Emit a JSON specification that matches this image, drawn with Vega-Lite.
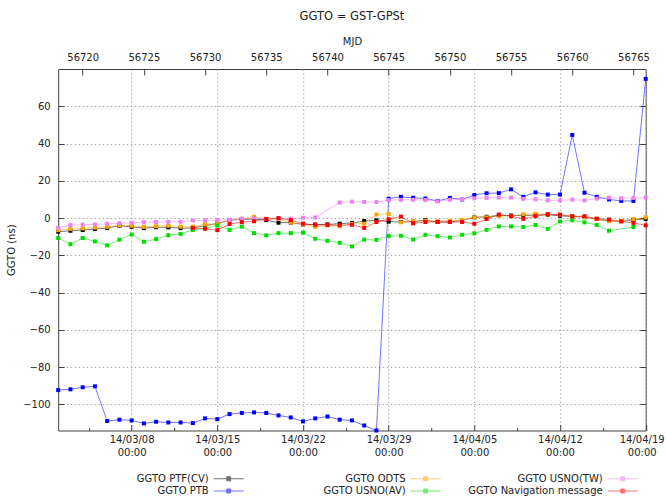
{
  "$schema": "https://vega.github.io/schema/vega-lite/v6.json",
  "width": 587.5,
  "height": 361.5,
  "autosize": {"type": "none"},
  "padding": {"left": 58.2, "top": 69, "right": 20.3, "bottom": 67.5},
  "background": "white",
  "title": {"text": "GGTO = GST-GPSt", "fontSize": 11.5, "font": "DejaVu Sans", "fontWeight": "normal", "color": "#222222", "offset": 14},
  "config": {
    "view": {"stroke": "#404040", "strokeWidth": 1},
    "font": "DejaVu Sans",
    "axis": {"labelFont": "DejaVu Sans", "labelFontSize": 10, "labelColor": "#222222", "titleFont": "DejaVu Sans", "titleFontSize": 10, "titleFontWeight": "normal", "titleColor": "#222222", "tickColor": "#404040", "domain": false, "labelFlush": false, "labelOverlap": false, "labelBound": false, "gridColor": "#a8a8a8", "gridDash": [1.5, 2.5], "gridWidth": 1}
  },
  "data": {"values": [
    {"s":"PTF(CV)","d":56718,"v":-7.3},{"s":"PTF(CV)","d":56719,"v":-6.8},{"s":"PTF(CV)","d":56720,"v":-6.4},{"s":"PTF(CV)","d":56721,"v":-5.9},{"s":"PTF(CV)","d":56722,"v":-5.4},{"s":"PTF(CV)","d":56723,"v":-4.1},{"s":"PTF(CV)","d":56724,"v":-4.7},{"s":"PTF(CV)","d":56725,"v":-5.4},{"s":"PTF(CV)","d":56726,"v":-4.9},{"s":"PTF(CV)","d":56727,"v":-5.0},
    {"s":"PTF(CV)","d":56728,"v":-5.4},{"s":"PTF(CV)","d":56729,"v":-5.4},{"s":"PTF(CV)","d":56730,"v":-4.0},{"s":"PTF(CV)","d":56731,"v":-2.9},{"s":"PTF(CV)","d":56732,"v":-1.2},{"s":"PTF(CV)","d":56733,"v":-0.6},{"s":"PTF(CV)","d":56734,"v":-0.6},{"s":"PTF(CV)","d":56735,"v":-1.0},{"s":"PTF(CV)","d":56736,"v":-2.5},{"s":"PTF(CV)","d":56737,"v":-2.4},
    {"s":"PTF(CV)","d":56738,"v":-3.4},{"s":"PTF(CV)","d":56739,"v":-3.5},{"s":"PTF(CV)","d":56740,"v":-3.4},{"s":"PTF(CV)","d":56741,"v":-3.0},{"s":"PTF(CV)","d":56742,"v":-2.6},{"s":"PTF(CV)","d":56743,"v":-1.6},{"s":"PTF(CV)","d":56744,"v":-1.2},{"s":"PTF(CV)","d":56745,"v":-1.9},{"s":"PTF(CV)","d":56746,"v":-2.1},{"s":"PTF(CV)","d":56747,"v":-1.9},
    {"s":"PTF(CV)","d":56748,"v":-1.1},{"s":"PTF(CV)","d":56749,"v":-2.1},{"s":"PTF(CV)","d":56750,"v":-2.1},{"s":"PTF(CV)","d":56751,"v":-1.2},{"s":"PTF(CV)","d":56752,"v":0.4},{"s":"PTF(CV)","d":56753,"v":0.7},{"s":"PTF(CV)","d":56754,"v":1.4},{"s":"PTF(CV)","d":56755,"v":1.4},{"s":"PTF(CV)","d":56756,"v":1.4},{"s":"PTF(CV)","d":56757,"v":1.6},
    {"s":"PTF(CV)","d":56758,"v":1.8},{"s":"PTF(CV)","d":56759,"v":1.2},{"s":"PTF(CV)","d":56760,"v":0.9},{"s":"PTF(CV)","d":56761,"v":0.5},{"s":"PTF(CV)","d":56762,"v":-0.5},{"s":"PTF(CV)","d":56763,"v":-1.6},{"s":"PTF(CV)","d":56764,"v":-1.6},{"s":"PTF(CV)","d":56765,"v":-0.9},{"s":"PTF(CV)","d":56766,"v":-0.5},

    {"s":"PTB","d":56718,"v":-92.3},{"s":"PTB","d":56719,"v":-91.9},{"s":"PTB","d":56720,"v":-90.8},{"s":"PTB","d":56721,"v":-90.3},{"s":"PTB","d":56722,"v":-108.9},{"s":"PTB","d":56723,"v":-108.2},{"s":"PTB","d":56724,"v":-108.6},{"s":"PTB","d":56725,"v":-110.2},{"s":"PTB","d":56726,"v":-109.3},{"s":"PTB","d":56727,"v":-109.7},
    {"s":"PTB","d":56728,"v":-109.7},{"s":"PTB","d":56729,"v":-110.0},{"s":"PTB","d":56730,"v":-107.5},{"s":"PTB","d":56731,"v":-107.9},{"s":"PTB","d":56732,"v":-105.2},{"s":"PTB","d":56733,"v":-104.6},{"s":"PTB","d":56734,"v":-104.3},{"s":"PTB","d":56735,"v":-104.6},{"s":"PTB","d":56736,"v":-105.9},{"s":"PTB","d":56737,"v":-107.0},
    {"s":"PTB","d":56738,"v":-109.1},{"s":"PTB","d":56739,"v":-107.5},{"s":"PTB","d":56740,"v":-106.5},{"s":"PTB","d":56741,"v":-108.2},{"s":"PTB","d":56742,"v":-108.6},{"s":"PTB","d":56743,"v":-111.3},{"s":"PTB","d":56744,"v":-114.0},{"s":"PTB","d":56745,"v":10.4},{"s":"PTB","d":56746,"v":11.4},{"s":"PTB","d":56747,"v":10.9},
    {"s":"PTB","d":56748,"v":10.5},{"s":"PTB","d":56749,"v":9.2},{"s":"PTB","d":56750,"v":10.8},{"s":"PTB","d":56751,"v":10.0},{"s":"PTB","d":56752,"v":12.4},{"s":"PTB","d":56753,"v":13.3},{"s":"PTB","d":56754,"v":13.4},{"s":"PTB","d":56755,"v":15.4},{"s":"PTB","d":56756,"v":11.4},{"s":"PTB","d":56757,"v":13.8},
    {"s":"PTB","d":56758,"v":12.6},{"s":"PTB","d":56759,"v":12.6},{"s":"PTB","d":56760,"v":44.6},{"s":"PTB","d":56761,"v":13.6},{"s":"PTB","d":56762,"v":11.4},{"s":"PTB","d":56763,"v":10.0},{"s":"PTB","d":56764,"v":9.2},{"s":"PTB","d":56765,"v":9.2},{"s":"PTB","d":56766,"v":74.7},

    {"s":"ODTS","d":56718,"v":-6.5},{"s":"ODTS","d":56719,"v":-5.9},{"s":"ODTS","d":56720,"v":-5.5},{"s":"ODTS","d":56721,"v":-5.1},{"s":"ODTS","d":56722,"v":-4.7},{"s":"ODTS","d":56723,"v":-3.8},{"s":"ODTS","d":56724,"v":-4.1},{"s":"ODTS","d":56725,"v":-4.7},{"s":"ODTS","d":56726,"v":-4.4},{"s":"ODTS","d":56727,"v":-4.1},
    {"s":"ODTS","d":56728,"v":-4.6},{"s":"ODTS","d":56729,"v":-4.6},{"s":"ODTS","d":56730,"v":-3.3},{"s":"ODTS","d":56731,"v":-3.2},{"s":"ODTS","d":56732,"v":-1.2},{"s":"ODTS","d":56733,"v":-0.3},{"s":"ODTS","d":56734,"v":0.7},{"s":"ODTS","d":56735,"v":-0.4},{"s":"ODTS","d":56736,"v":-0.5},{"s":"ODTS","d":56737,"v":-2.4},
    {"s":"ODTS","d":56738,"v":-3.3},{"s":"ODTS","d":56739,"v":-4.7},{"s":"ODTS","d":56740,"v":-3.9},{"s":"ODTS","d":56741,"v":-4.4},{"s":"ODTS","d":56742,"v":-3.1},{"s":"ODTS","d":56743,"v":-3.0},{"s":"ODTS","d":56744,"v":1.9},{"s":"ODTS","d":56745,"v":2.2},{"s":"ODTS","d":56746,"v":-2.3},{"s":"ODTS","d":56747,"v":-1.7},
    {"s":"ODTS","d":56748,"v":-1.5},{"s":"ODTS","d":56749,"v":-1.6},{"s":"ODTS","d":56750,"v":-1.5},{"s":"ODTS","d":56751,"v":-1.0},{"s":"ODTS","d":56752,"v":0.4},{"s":"ODTS","d":56753,"v":0.4},{"s":"ODTS","d":56754,"v":1.1},{"s":"ODTS","d":56755,"v":1.1},{"s":"ODTS","d":56756,"v":2.0},{"s":"ODTS","d":56757,"v":2.3},
    {"s":"ODTS","d":56758,"v":2.0},{"s":"ODTS","d":56759,"v":1.8},{"s":"ODTS","d":56760,"v":0.9},{"s":"ODTS","d":56761,"v":0.5},{"s":"ODTS","d":56762,"v":-0.5},{"s":"ODTS","d":56763,"v":-1.6},{"s":"ODTS","d":56764,"v":-1.6},{"s":"ODTS","d":56765,"v":-0.5},{"s":"ODTS","d":56766,"v":0.4},

    {"s":"USNO(AV)","d":56718,"v":-10.7},{"s":"USNO(AV)","d":56719,"v":-14.0},{"s":"USNO(AV)","d":56720,"v":-10.7},{"s":"USNO(AV)","d":56721,"v":-12.5},{"s":"USNO(AV)","d":56722,"v":-14.6},{"s":"USNO(AV)","d":56723,"v":-11.6},{"s":"USNO(AV)","d":56724,"v":-8.8},{"s":"USNO(AV)","d":56725,"v":-12.7},{"s":"USNO(AV)","d":56726,"v":-11.3},{"s":"USNO(AV)","d":56727,"v":-9.2},
    {"s":"USNO(AV)","d":56728,"v":-8.5},{"s":"USNO(AV)","d":56729,"v":-6.4},{"s":"USNO(AV)","d":56730,"v":-5.4},{"s":"USNO(AV)","d":56731,"v":-4.0},{"s":"USNO(AV)","d":56732,"v":-6.4},{"s":"USNO(AV)","d":56733,"v":-4.6},{"s":"USNO(AV)","d":56734,"v":-8.1},{"s":"USNO(AV)","d":56735,"v":-9.3},{"s":"USNO(AV)","d":56736,"v":-8.1},{"s":"USNO(AV)","d":56737,"v":-8.1},
    {"s":"USNO(AV)","d":56738,"v":-7.8},{"s":"USNO(AV)","d":56739,"v":-11.1},{"s":"USNO(AV)","d":56740,"v":-12.2},{"s":"USNO(AV)","d":56741,"v":-13.3},{"s":"USNO(AV)","d":56742,"v":-15.2},{"s":"USNO(AV)","d":56743,"v":-11.6},{"s":"USNO(AV)","d":56744,"v":-11.7},{"s":"USNO(AV)","d":56745,"v":-9.6},{"s":"USNO(AV)","d":56746,"v":-9.5},{"s":"USNO(AV)","d":56747,"v":-11.5},
    {"s":"USNO(AV)","d":56748,"v":-9.0},{"s":"USNO(AV)","d":56749,"v":-9.7},{"s":"USNO(AV)","d":56750,"v":-10.4},{"s":"USNO(AV)","d":56751,"v":-9.0},{"s":"USNO(AV)","d":56752,"v":-8.2},{"s":"USNO(AV)","d":56753,"v":-6.3},{"s":"USNO(AV)","d":56754,"v":-4.5},{"s":"USNO(AV)","d":56755,"v":-4.5},{"s":"USNO(AV)","d":56756,"v":-4.8},{"s":"USNO(AV)","d":56757,"v":-3.7},
    {"s":"USNO(AV)","d":56758,"v":-5.8},{"s":"USNO(AV)","d":56759,"v":-1.8},{"s":"USNO(AV)","d":56760,"v":-1.2},{"s":"USNO(AV)","d":56761,"v":-2.3},{"s":"USNO(AV)","d":56762,"v":-3.7},{"s":"USNO(AV)","d":56763,"v":-6.8},{"s":"USNO(AV)","d":56765,"v":-4.8},

    {"s":"USNO(TW)","d":56718,"v":-5.2},{"s":"USNO(TW)","d":56719,"v":-3.8},{"s":"USNO(TW)","d":56720,"v":-3.5},{"s":"USNO(TW)","d":56721,"v":-3.4},{"s":"USNO(TW)","d":56722,"v":-3.1},{"s":"USNO(TW)","d":56723,"v":-2.8},{"s":"USNO(TW)","d":56724,"v":-2.5},{"s":"USNO(TW)","d":56725,"v":-2.2},{"s":"USNO(TW)","d":56726,"v":-2.1},{"s":"USNO(TW)","d":56727,"v":-2.0},
    {"s":"USNO(TW)","d":56728,"v":-2.0},{"s":"USNO(TW)","d":56729,"v":-1.3},{"s":"USNO(TW)","d":56730,"v":-1.2},{"s":"USNO(TW)","d":56731,"v":-1.1},{"s":"USNO(TW)","d":56732,"v":-0.9},{"s":"USNO(TW)","d":56733,"v":-0.4},{"s":"USNO(TW)","d":56734,"v":-0.1},{"s":"USNO(TW)","d":56735,"v":-0.4},{"s":"USNO(TW)","d":56736,"v":-0.3},{"s":"USNO(TW)","d":56737,"v":-0.3},
    {"s":"USNO(TW)","d":56738,"v":0.2},{"s":"USNO(TW)","d":56739,"v":0.3},{"s":"USNO(TW)","d":56741,"v":8.3},{"s":"USNO(TW)","d":56742,"v":8.8},{"s":"USNO(TW)","d":56743,"v":8.6},{"s":"USNO(TW)","d":56744,"v":8.6},{"s":"USNO(TW)","d":56745,"v":9.6},{"s":"USNO(TW)","d":56746,"v":9.8},{"s":"USNO(TW)","d":56747,"v":9.8},
    {"s":"USNO(TW)","d":56748,"v":9.7},{"s":"USNO(TW)","d":56749,"v":9.0},{"s":"USNO(TW)","d":56750,"v":9.8},{"s":"USNO(TW)","d":56751,"v":10.1},{"s":"USNO(TW)","d":56752,"v":10.6},{"s":"USNO(TW)","d":56753,"v":10.8},{"s":"USNO(TW)","d":56754,"v":11.0},{"s":"USNO(TW)","d":56755,"v":11.0},{"s":"USNO(TW)","d":56756,"v":10.3},{"s":"USNO(TW)","d":56757,"v":10.1},
    {"s":"USNO(TW)","d":56758,"v":9.5},{"s":"USNO(TW)","d":56759,"v":9.5},{"s":"USNO(TW)","d":56760,"v":9.9},{"s":"USNO(TW)","d":56761,"v":9.5},{"s":"USNO(TW)","d":56762,"v":10.4},{"s":"USNO(TW)","d":56763,"v":11.0},{"s":"USNO(TW)","d":56764,"v":10.6},{"s":"USNO(TW)","d":56765,"v":10.8},{"s":"USNO(TW)","d":56766,"v":11.0},

    {"s":"Navigation message","d":56729,"v":-5.3},{"s":"Navigation message","d":56730,"v":-5.7},{"s":"Navigation message","d":56731,"v":-6.5},{"s":"Navigation message","d":56732,"v":-3.2},{"s":"Navigation message","d":56733,"v":-2.2},{"s":"Navigation message","d":56734,"v":-1.7},{"s":"Navigation message","d":56735,"v":-0.5},{"s":"Navigation message","d":56736,"v":0.0},{"s":"Navigation message","d":56737,"v":-1.1},{"s":"Navigation message","d":56738,"v":-3.0},
    {"s":"Navigation message","d":56739,"v":-3.6},{"s":"Navigation message","d":56740,"v":-3.7},{"s":"Navigation message","d":56741,"v":-3.8},{"s":"Navigation message","d":56742,"v":-3.6},{"s":"Navigation message","d":56743,"v":-5.3},{"s":"Navigation message","d":56744,"v":-2.1},{"s":"Navigation message","d":56745,"v":-0.6},{"s":"Navigation message","d":56746,"v":0.8},{"s":"Navigation message","d":56747,"v":-2.8},{"s":"Navigation message","d":56748,"v":-2.1},
    {"s":"Navigation message","d":56749,"v":-2.1},{"s":"Navigation message","d":56750,"v":-2.1},{"s":"Navigation message","d":56751,"v":-2.1},{"s":"Navigation message","d":56752,"v":-3.1},{"s":"Navigation message","d":56753,"v":-0.5},{"s":"Navigation message","d":56754,"v":1.9},{"s":"Navigation message","d":56755,"v":1.0},{"s":"Navigation message","d":56756,"v":-0.4},{"s":"Navigation message","d":56757,"v":1.0},{"s":"Navigation message","d":56758,"v":2.1},
    {"s":"Navigation message","d":56759,"v":1.8},{"s":"Navigation message","d":56760,"v":0.9},{"s":"Navigation message","d":56761,"v":1.0},{"s":"Navigation message","d":56762,"v":-0.3},{"s":"Navigation message","d":56763,"v":-0.8},{"s":"Navigation message","d":56764,"v":-1.8},{"s":"Navigation message","d":56765,"v":-2.6},{"s":"Navigation message","d":56766,"v":-3.9}
  ]},
  "layer": [
    {
      "mark": {"type": "line", "strokeWidth": 1, "opacity": 0.55},
      "encoding": {
        "x": {"field": "d", "type": "quantitative", "scale": {"domain": [56718, 56766], "nice": false, "zero": false},
          "axis": {"orient": "bottom", "values": [56724, 56731, 56738, 56745, 56752, 56759, 56766], "labelExpr": "[utcFormat((datum.value - 40587) * 86400000, '%y/%m/%d'), '00:00']", "title": null, "grid": true, "ticks": true, "tickSize": -6, "labelPadding": 10, "labelLineHeight": 13,
            "labelOffset": {"condition": {"test": "datum.value == 56766", "value": -4}, "value": 0}}},
        "y": {"field": "v", "type": "quantitative", "scale": {"domain": [-114, 80], "nice": false, "zero": false},
          "axis": {"orient": "left", "values": [-100, -80, -60, -40, -20, 0, 20, 40, 60], "title": "GGTO (ns)", "titlePadding": 6, "grid": true, "ticks": true, "tickSize": -6, "labelPadding": 14}},
        "color": {"field": "s", "type": "nominal",
          "scale": {"domain": ["PTF(CV)", "ODTS", "USNO(TW)", "PTB", "USNO(AV)", "Navigation message"], "range": ["#000000", "#ffa500", "#ee82ee", "#0000ff", "#00dd00", "#ff0000"]},
          "legend": {"orient": "none", "legendX": 165, "legendY": 404, "direction": "horizontal", "columns": 3, "title": null, "gridAlign": "all", "padding": 0,
            "symbolType": "M-3,0H3M-0.4,-0.4H0.4V0.4H-0.4Z", "symbolSize": 100, "symbolStrokeWidth": 1,
            "labelExpr": "'GGTO ' + datum.label", "labelAlign": "right", "labelOffset": -25.5, "labelFontSize": 10, "labelFont": "DejaVu Sans", "labelColor": "#222222", "labelLimit": 300,
            "columnPadding": 25, "rowPadding": 1.5,
            "encode": {"symbols": {"update": {"stroke": {"scale": "color", "field": "value"}, "fill": {"scale": "color", "field": "value"}, "strokeOpacity": {"value": 0.6}, "fillOpacity": {"value": 1}, "opacity": {"value": 1}}}}}}
      }
    },
    {
      "mark": {"type": "point", "shape": "square", "filled": true, "size": 16, "opacity": 1},
      "encoding": {
        "x": {"field": "d", "type": "quantitative", "scale": {"domain": [56718, 56766], "nice": false, "zero": false},
          "axis": {"orient": "top", "values": [56720, 56725, 56730, 56735, 56740, 56745, 56750, 56755, 56760, 56765], "format": "d", "title": "MJD", "titlePadding": 6, "grid": false, "ticks": true, "tickSize": -6, "labelPadding": 13}},
        "y": {"field": "v", "type": "quantitative", "scale": {"domain": [-114, 80], "nice": false, "zero": false},
          "axis": {"orient": "right", "values": [-100, -80, -60, -40, -20, 0, 20, 40, 60], "labels": false, "title": null, "grid": false, "ticks": true, "tickSize": -6}},
        "color": {"field": "s", "type": "nominal"}
      }
    },
    {
      "mark": {"type": "point", "opacity": 0},
      "encoding": {
        "x": {"field": "d", "type": "quantitative", "scale": {"domain": [56718, 56766], "nice": false, "zero": false},
          "axis": {"orient": "bottom", "values": [56720.5, 56727.5, 56734.5, 56741.5, 56748.5, 56755.5, 56762.5], "labels": false, "title": null, "grid": false, "ticks": true, "tickSize": -3}},
        "y": {"field": "v", "type": "quantitative", "scale": {"domain": [-114, 80], "nice": false, "zero": false}, "axis": null}
      }
    }
  ],
  "resolve": {"axis": {"x": "independent", "y": "independent"}}
}
